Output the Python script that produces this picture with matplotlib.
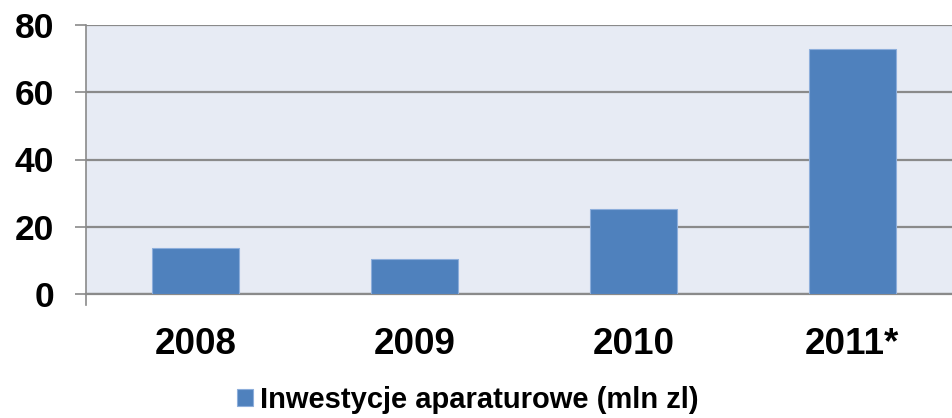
import matplotlib
matplotlib.use('Agg')
import matplotlib.pyplot as plt
from matplotlib.lines import Line2D

plt.rcParams['font.family'] = ['Liberation Sans', 'DejaVu Sans']

years = ['2008', '2009', '2010', '2011*']
values = [13.7, 10.4, 25.2, 72.8]
series_name = 'Inwestycje aparaturowe (mln zl)'

bar_color = '#4F81BD'
grid_color = '#8A8A8A'

fig = plt.figure(figsize=(9.53, 4.18), dpi=100)
ax = fig.add_axes([86 / 953, 1 - 294 / 418, 867 / 953, 269 / 418])
ax.set_facecolor('#E7EBF4')

ax.bar(range(len(years)), values, width=0.4, color=bar_color,
       edgecolor='#8DAEDB', linewidth=0.8, label=series_name, zorder=3)

ax.set_xlim(-0.5, 3.46)
ax.set_ylim(0, 80)
ax.set_yticks([0, 20, 40, 60, 80])
ax.set_xticks(range(len(years)))
ax.set_xticklabels(years)

ax.grid(axis='y', color=grid_color, linewidth=1.6, zorder=1)
ax.set_axisbelow(True)
for side in ['top', 'right']:
    ax.spines[side].set_visible(False)
ax.spines['left'].set_color(grid_color)
ax.spines['left'].set_linewidth(1.2)
ax.spines['bottom'].set_color(grid_color)
ax.spines['bottom'].set_linewidth(1.6)

ax.tick_params(axis='y', length=8, width=1.2, color=grid_color, pad=15,
               labelsize=25.5)
ax.tick_params(axis='x', length=0, pad=24, labelsize=26.5)
for lbl in ax.get_xticklabels() + ax.get_yticklabels():
    lbl.set_fontweight('bold')

# left axis runs a little below the zero line
ax.add_line(Line2D([0, 0], [0, -11 / 269], transform=ax.transAxes,
                   color=grid_color, linewidth=1.2, clip_on=False))

fig.legend(loc='center', bbox_to_anchor=(468 / 953, 1 - 400 / 418),
           frameon=False, handlelength=0.55, handleheight=0.55,
           handletextpad=0.25, prop={'weight': 'bold', 'size': 21})

fig.savefig('out.png', dpi=100)
